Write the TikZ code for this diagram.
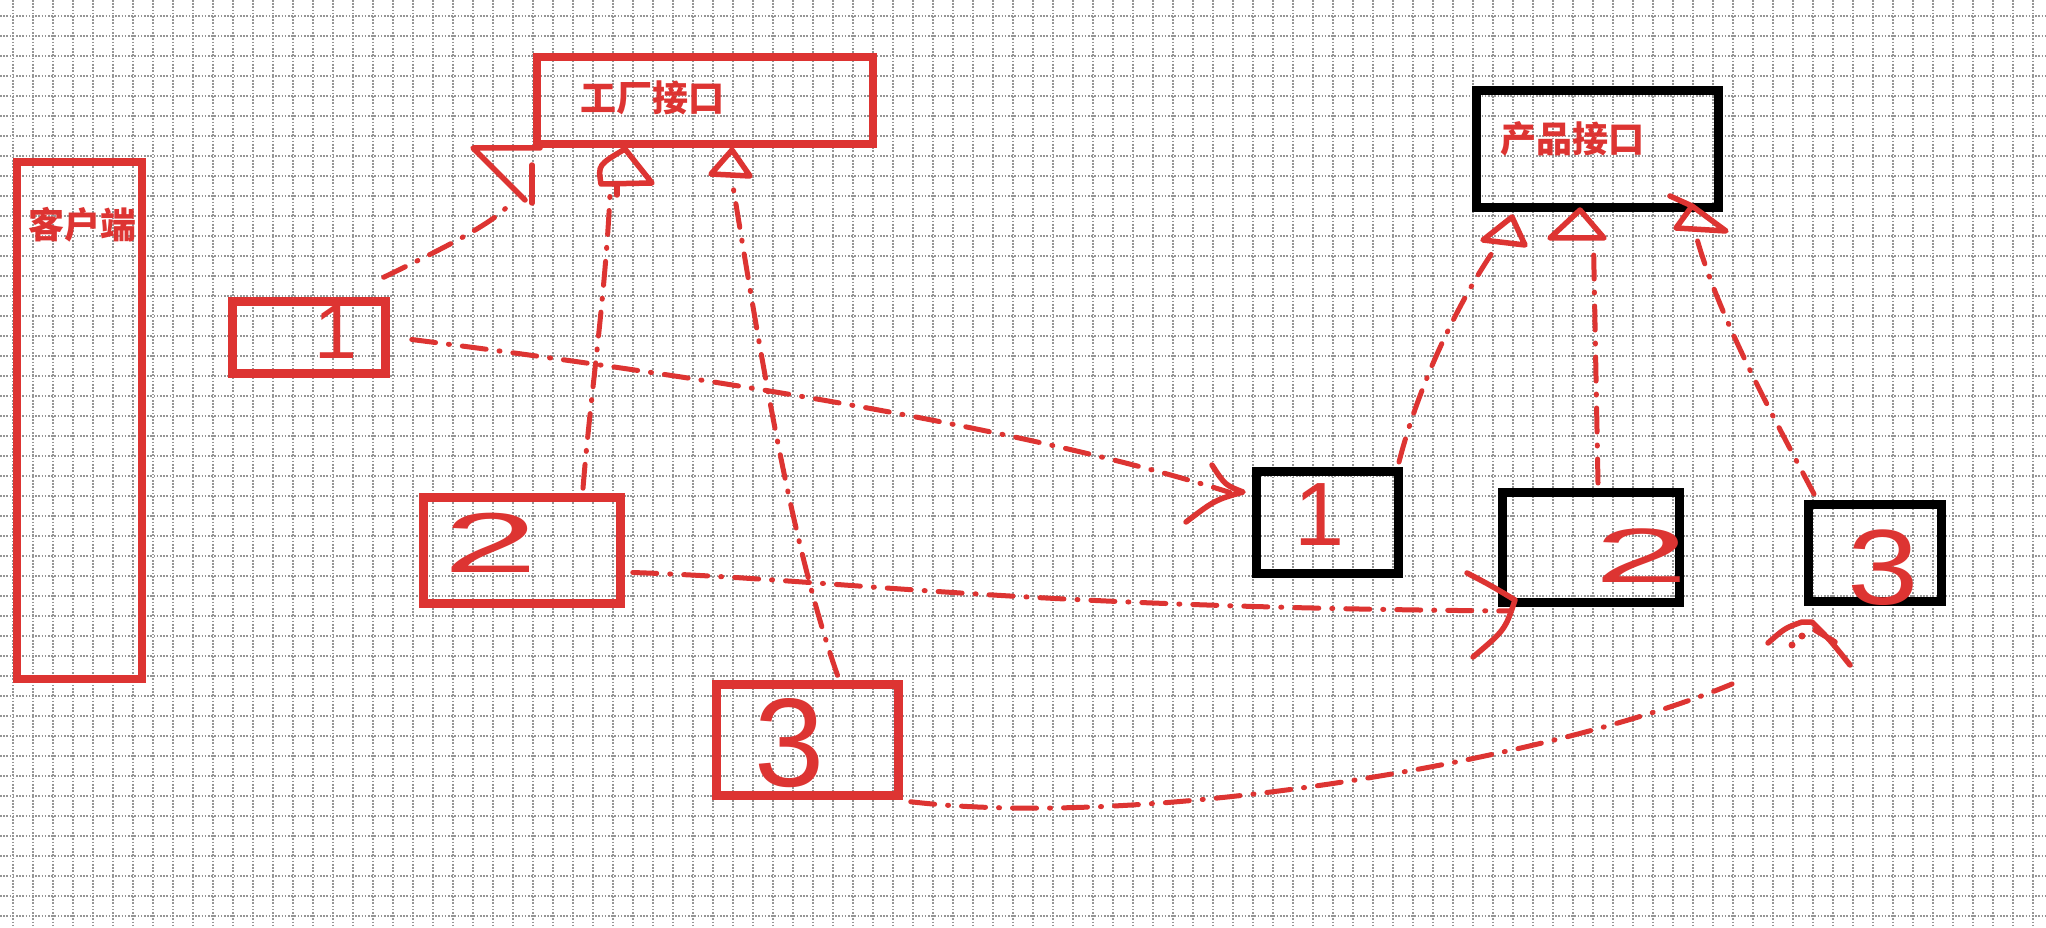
\documentclass[tikz,border=0pt]{standalone}
\usepackage{fontspec}
\usepackage{graphicx}
\newfontfamily\cjk{Noto Sans CJK SC}
\newfontfamily\digitfont{Liberation Sans}
\definecolor{hred}{RGB}{221,52,50}
\definecolor{gridc}{RGB}{150,150,150}
\tikzset{
  gridline/.style={draw=gridc, line width=1.4pt, dash pattern=on 1.6pt off 1.6pt},
  redbox/.style={draw=hred, line width=8.5pt, inner sep=0pt},
  blackbox/.style={draw=black, line width=9pt, inner sep=0pt},
  cjklabel/.style={text=hred, inner sep=0pt, font=\cjk\bfseries\fontsize{36}{36}\selectfont},
  digit/.style={text=hred, inner sep=0pt},
  hand/.style={draw=hred, line width=5pt, line cap=round, dash pattern=on 24pt off 13pt on 1pt off 13pt},
  tipline/.style={draw=hred, line width=5.5pt, line cap=round, line join=round},
}
\begin{document}
\begin{tikzpicture}[x=1pt,y=-1pt]
\useasboundingbox (0,0) rectangle (2046,928);
\fill[white] (0,0) rectangle (2046,928);
% grid
\foreach \i in {0,...,101} \draw[gridline] ({13+20*\i},0) -- ({13+20*\i},928);
\foreach \j in {0,...,45} \draw[gridline] (0,{16+20*\j}) -- (2046,{16+20*\j});

% boxes
\node[redbox, minimum width=125pt, minimum height=517pt] (client) at (79.5,420.5) {};
\node[redbox, minimum width=336pt, minimum height=87pt] (factory) at (705,100.5) {};
\node[redbox, minimum width=153pt, minimum height=72pt] (box1) at (309,337.5) {};
\node[redbox, minimum width=197pt, minimum height=106pt] (box2) at (522,550.5) {};
\node[redbox, minimum width=182pt, minimum height=111pt] (box3) at (807.5,740) {};
\node[blackbox, minimum width=242pt, minimum height=117pt] (prodif) at (1597.5,149) {};
\node[blackbox, minimum width=142pt, minimum height=102pt] (p1) at (1327.5,522.5) {};
\node[blackbox, minimum width=177pt, minimum height=110pt] (p2) at (1591,547.5) {};
\node[blackbox, minimum width=133pt, minimum height=97pt] (p3) at (1875,553) {};

% texts
\node[cjklabel] (clienttext) at (82,225) {客户端};
\node[cjklabel] (factorytext) at (652,98) {工厂接口};
\node[cjklabel] (prodiftext) at (1572,139) {产品接口};

\node[digit, font=\digitfont\fontsize{77}{77}\selectfont] (d1) at (336,332) {1};
\node[digit, font=\digitfont\fontsize{85}{85}\selectfont] (d2) at (491,543) {\scalebox{2}[1]{2}};
\node[digit, font=\digitfont\fontsize{126}{126}\selectfont] (d3) at (790,743) {3};
\node[digit, font=\digitfont\fontsize{90}{90}\selectfont] (e1) at (1320,515) {1};
\node[digit, font=\digitfont\fontsize{77}{77}\selectfont] (e2) at (1642,556) {\scalebox{2.2}[1]{2}};
\node[digit, font=\digitfont\fontsize{107}{107}\selectfont] (e3) at (1883,568) {\scalebox{1.2}[1]{3}};

% connectors
\draw[hand] ([shift={(-6,-20)}]box1.north east) .. controls (440,250) and (490,225) .. ([shift={(-25,58)}]factory.south west);
\draw[hand] ([shift={(22,2)}]box1.east) .. controls (650,370) and (1000,420) .. ([shift={(-22,-30)}]p1.west);
\draw[hand] ([shift={(61,-5)}]box2.north) .. controls (590,400) and (605,300) .. ([shift={(-95,46)}]factory.south);
\draw[hand] ([shift={(30,-5)}]box3.north) .. controls (790,540) and (760,350) .. ([shift={(28,38)}]factory.south);
\draw[hand] ([shift={(8,22)}]box2.east) .. controls (850,580) and (1000,607) .. ([shift={(12,4)}]p2.south west);
\draw[hand] ([shift={(8,2)}]box3.south east) .. controls (1150,830) and (1550,760) .. ([shift={(-72,78)}]p3.south west);
\draw[hand] ([shift={(-4,-5)}]p1.north east) .. controls (1420,380) and (1460,300) .. ([shift={(22,38)}]prodif.south west);
\draw[hand] ([shift={(7,-5)}]p2.north) -- ([shift={(-4,32)}]prodif.south);
\draw[hand] ([shift={(10,-6)}]p3.north west) .. controls (1775,420) and (1720,320) .. ([shift={(-26,27)}]prodif.south east);

% hand-drawn heads
\draw[tipline] (540,148) -- (473,148) -- (525,200);
\draw[tipline] (532,165) -- (532,203);
\draw[tipline] (625,149) .. controls (598,165) .. (601,184) -- (652,183) -- cycle;
\draw[tipline] (617,184) -- (617,195);
\draw[tipline] (732,150) -- (711,174) -- (750,176) -- cycle;
\draw[tipline] (1212,465) .. controls (1225,485) .. (1243,492) .. controls (1215,500) .. (1186,522);
\draw[tipline] (1467,573) .. controls (1490,585) .. (1515,600) .. controls (1505,630) .. (1473,657);
\draw[tipline] (1768,643) .. controls (1785,628) .. (1802,622) -- (1812,622) .. controls (1830,640) .. (1850,665);
\draw[tipline] (1815,630) -- (1835,642);
\fill[hred] (1802,636) circle (3.5) (1792,645) circle (3.5);
\draw[tipline] (1512,217) -- (1483,240) -- (1525,245) -- cycle;
\draw[tipline] (1580,210) -- (1550,238) -- (1604,238) -- cycle;
\draw[tipline] (1670,196) -- (1692,206) -- (1676,228) -- (1726,231) -- (1692,206);
\end{tikzpicture}
\end{document}
